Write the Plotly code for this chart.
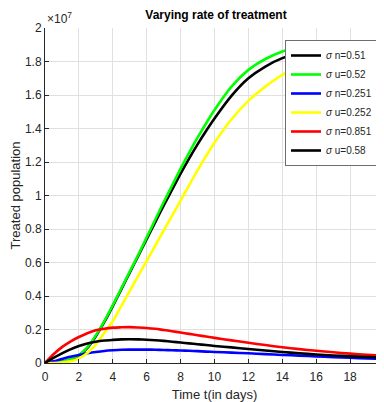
import plotly.graph_objects as go

# time (days)
t = [0, 0.5, 1, 1.5, 2, 2.5, 3, 3.5, 4, 4.5, 5, 5.5, 6, 6.5, 7, 7.5, 8, 8.5, 9, 9.5, 10,
     11, 12, 13, 14, 15, 16, 17, 18, 19, 20]

# treated population, in units of 1e7
sn_051 = [0, 0.001, 0.007, 0.02, 0.045, 0.09, 0.16, 0.245, 0.34, 0.44, 0.54, 0.64, 0.74, 0.84, 0.94,
          1.035, 1.13, 1.22, 1.305, 1.385, 1.46, 1.595, 1.70, 1.77, 1.82, 1.85, 1.865, 1.86, 1.84, 1.80, 1.75]
su_052 = [0, 0.001, 0.008, 0.022, 0.048, 0.094, 0.165, 0.25, 0.345, 0.445, 0.545, 0.645, 0.75, 0.855, 0.96,
          1.06, 1.16, 1.255, 1.345, 1.43, 1.51, 1.65, 1.75, 1.815, 1.86, 1.89, 1.905, 1.91, 1.895, 1.86, 1.815]
sn_0251 = [0, 0.01, 0.024, 0.037, 0.048, 0.058, 0.066, 0.072, 0.076, 0.079, 0.08, 0.08, 0.08, 0.079, 0.078,
           0.076, 0.075, 0.073, 0.071, 0.068, 0.066, 0.062, 0.058, 0.053, 0.048, 0.044, 0.039, 0.035, 0.031, 0.027, 0.024]
su_0252 = [0, 0, 0.003, 0.01, 0.028, 0.06, 0.11, 0.18, 0.25, 0.34, 0.43, 0.52, 0.61, 0.70, 0.79,
           0.88, 0.97, 1.06, 1.15, 1.235, 1.315, 1.455, 1.565, 1.65, 1.72, 1.77, 1.80, 1.82, 1.825, 1.815, 1.79]
sn_0851 = [0, 0.052, 0.095, 0.128, 0.155, 0.178, 0.195, 0.205, 0.211, 0.213, 0.214, 0.212, 0.209, 0.204, 0.197,
           0.19, 0.182, 0.174, 0.166, 0.158, 0.15, 0.135, 0.121, 0.107, 0.094, 0.083, 0.073, 0.064, 0.056, 0.049, 0.042]
su_058 = [0, 0.03, 0.057, 0.081, 0.101, 0.116, 0.127, 0.134, 0.138, 0.141, 0.142, 0.141, 0.139, 0.136, 0.132,
          0.127, 0.122, 0.117, 0.112, 0.107, 0.102, 0.093, 0.084, 0.075, 0.066, 0.058, 0.051, 0.045, 0.040, 0.036, 0.033]

SCALE = 1e7
names = ["<i>σ</i> n=0.51", "<i>σ</i> u=0.52", "<i>σ</i> n=0.251",
         "<i>σ</i> u=0.252", "<i>σ</i> n=0.851", "<i>σ</i> u=0.58"]
series = [sn_051, su_052, sn_0251, su_0252, sn_0851, su_058]
colors = ["#000000", "#00ff00", "#0000ff", "#ffff00", "#ff0000", "#000000"]

x_ticks = list(range(0, 21, 2))
y_ticks = [0, 0.2, 0.4, 0.6, 0.8, 1, 1.2, 1.4, 1.6, 1.8, 2]
y_ticktext = ["0", "0.2", "0.4", "0.6", "0.8", "1", "1.2", "1.4", "1.6", "1.8", "2"]

fig = go.Figure()
for name, ys, c in zip(names, series, colors):
    fig.add_trace(go.Scatter(
        x=t, y=[v * SCALE for v in ys], mode="lines", name=name,
        line=dict(color=c, width=2.6, shape="spline", smoothing=0.8),
    ))

FONT = "Liberation Sans, Arial, sans-serif"
# page body has an 8px margin; figure is sized/offset so the plot lands where the reference has it
W, H = 376, 394
fig.update_layout(
    template="none",
    width=W, height=H,
    margin=dict(l=37, r=0, t=20, b=39),
    paper_bgcolor="white", plot_bgcolor="white",
    font=dict(family=FONT, size=12, color="#262626"),
    title=dict(text="<b>Varying rate of treatment</b>", x=(216 - 8) / W, xanchor="center",
               y=1 - 7 / H, yanchor="middle", font=dict(size=12, color="#000000")),
    showlegend=True,
    legend=dict(x=(378 - 45) / 339, y=(363 - 40) / 335, xanchor="right", yanchor="top",
                bgcolor="white", bordercolor="#6e6e6e", borderwidth=1,
                font=dict(size=10, color="#262626"), tracegroupgap=0,
                itemwidth=30),
    xaxis=dict(range=[0, 20], tickvals=x_ticks, ticks="inside", ticklen=4, tickcolor="#262626",
               showline=True, linecolor="#262626", linewidth=1, mirror=False,
               showgrid=True, gridcolor="#e0e0e0", gridwidth=1, zeroline=False,
               automargin=False, tickfont=dict(size=12, color="#262626"), ticklabelstandoff=3,
               ticklabeloverflow="allow",
               title=dict(text="Time t(in days)", standoff=14, font=dict(size=13, color="#262626"))),
    yaxis=dict(range=[0, 2 * SCALE], tickvals=[v * SCALE for v in y_ticks], ticktext=y_ticktext,
               ticks="inside", ticklen=4, tickcolor="#262626",
               showline=True, linecolor="#262626", linewidth=1, mirror=False,
               showgrid=True, gridcolor="#e0e0e0", gridwidth=1, zeroline=False,
               automargin=False, tickfont=dict(size=12, color="#262626"),
               title=dict(text="Treated population", standoff=2, font=dict(size=13, color="#262626"))),
    annotations=[dict(text="×10<sup>7</sup>", xref="paper", yref="paper", x=0, y=1,
                      xanchor="left", yanchor="bottom", showarrow=False,
                      font=dict(size=12, color="#262626"))],
)

fig.write_html("out.html")
